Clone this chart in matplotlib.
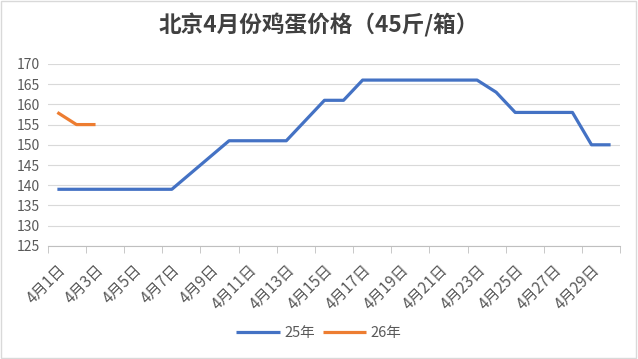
import matplotlib.pyplot as plt
import matplotlib.patches as mpatches
import matplotlib.transforms as mtransforms

plt.rcParams['font.family'] = ['Noto Sans CJK SC', 'DejaVu Sans']

# 数据
days = ['4月{}日'.format(d) for d in range(1, 31)]
price_25 = [139, 139, 139, 139, 139, 139, 139, 143, 147, 151,
            151, 151, 151, 156, 161, 161, 166, 166, 166, 166,
            166, 166, 166, 163, 158, 158, 158, 158, 150, 150]
price_26 = [158, 155, 155]
series_names = ['25年', '26年']
yticks = list(range(125, 171, 5))

fig = plt.figure(figsize=(6.38, 3.59), dpi=100)
ax = fig.add_axes([0.075, 0.315, 0.897, 0.507])

x25 = list(range(len(price_25)))
x26 = list(range(len(price_26)))
ax.plot(x25, price_25, color='#4472C4', lw=2.3, label=series_names[0], solid_capstyle='butt')
ax.plot(x26, price_26, color='#ED7D31', lw=2.3, label=series_names[1], solid_capstyle='butt')

ax.set_xlim(-0.5, len(days) - 0.5)
ax.set_ylim(125, 170)
ax.set_yticks(yticks)
ax.grid(axis='y', color='#d9d9d9', lw=0.8)
ax.set_axisbelow(True)

# 类别轴：标签每隔一天，刻度线在类别边界
ax.set_xticks(x25[::2])
ax.set_xticklabels(days[::2], rotation=45, ha='right', va='top',
                   rotation_mode='anchor', fontsize=11, color='#595959')
offset = mtransforms.ScaledTranslation(0.04, 0, fig.dpi_scale_trans)
for lab in ax.get_xticklabels():
    lab.set_transform(lab.get_transform() + offset)
ax.set_xticks([i - 0.5 for i in range(0, len(days) + 1, 2)], minor=True)
ax.tick_params(axis='x', which='major', length=0, pad=11)
ax.tick_params(axis='x', which='minor', length=5, color='#bfbfbf')
ax.tick_params(axis='y', length=0, labelsize=10, labelcolor='#595959', pad=6)

for s in ['top', 'right', 'left']:
    ax.spines[s].set_visible(False)
ax.spines['bottom'].set_color('#bfbfbf')

fig.text(0.5, 0.93, '北京4月份鸡蛋价格（45斤/箱）', ha='center', va='center',
         fontsize=16.3, fontweight='bold', color='#404040')

fig.legend(loc='center', bbox_to_anchor=(0.5, 0.072), ncol=2, frameon=False,
           fontsize=10.5, handlelength=3, columnspacing=0.5, handletextpad=0.3,
           labelcolor='#595959')

# 外框
fig.patches.append(mpatches.Rectangle((0.002, 0.003), 0.995, 0.994, transform=fig.transFigure,
                                      fill=False, edgecolor='#d9d9d9', lw=1))

fig.savefig('out.png', dpi=100)
